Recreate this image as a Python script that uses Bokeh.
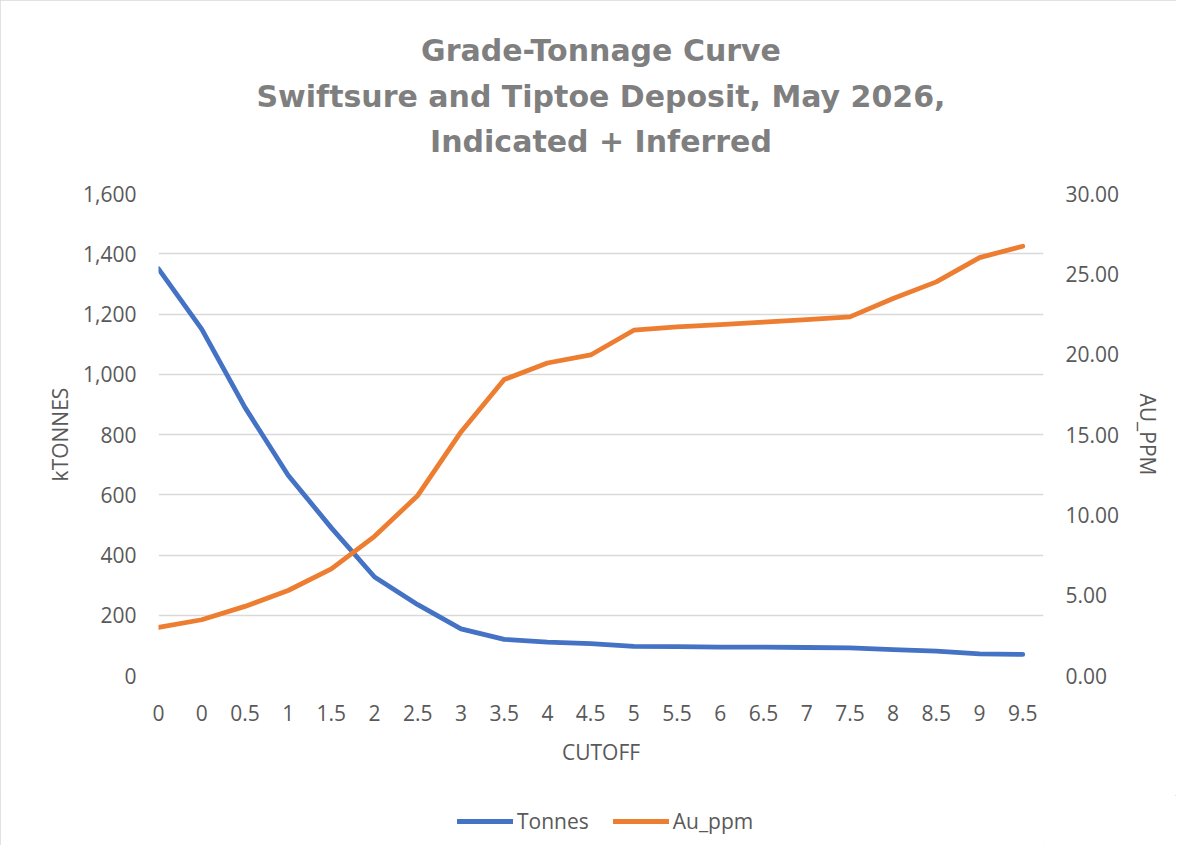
from bokeh.plotting import figure
from bokeh.layouts import column
from bokeh.models import (Range1d, LinearAxis, FixedTicker, NumeralTickFormatter,
                          Legend, LegendItem, Title)
from bokeh.embed import file_html
from bokeh.resources import INLINE

cutoffs = ["0", "0", "0.5", "1", "1.5", "2", "2.5", "3", "3.5", "4", "4.5",
           "5", "5.5", "6", "6.5", "7", "7.5", "8", "8.5", "9", "9.5"]
tonnes_k = [1350, 1150, 890, 665, 490, 327, 235, 155, 120, 111, 106,
            97, 96, 94, 94, 93, 92, 86, 81, 72, 70]
au_ppm = [3.00, 3.47, 4.30, 5.29, 6.64, 8.66, 11.21, 15.16, 18.42, 19.45, 19.95,
          21.49, 21.70, 21.84, 22.00, 22.15, 22.32, 23.46, 24.50, 26.01, 26.72]
left_ticks = [0, 200, 400, 600, 800, 1000, 1200, 1400, 1600]
right_ticks = [0, 5, 10, 15, 20, 25, 30]
title_lines = ["Grade-Tonnage Curve",
               "Swiftsure and Tiptoe Deposit, May 2026,",
               "Indicated + Inferred"]
series_names = ["Tonnes", "Au_ppm"]

xs = list(range(len(cutoffs)))

FONT = "Open Sans"
TFONT = "DejaVu Sans"
TXT = "#595959"
GRID = "#d9d9d9"
BLUE = "#4472C4"
ORANGE = "#ED7D31"

p = figure(frame_width=885, frame_height=482, output_backend="svg", toolbar_location=None,
           x_range=Range1d(0, 20.48), y_range=Range1d(0, 1600),
           min_border_left=158, min_border_right=133, min_border_top=193,
           min_border_bottom=120, title=None)
p.outline_line_color = None

# spacer next to the frame, then the three title lines stacked upwards
p.add_layout(Title(text=" ", align="center", text_font=TFONT, text_font_size="26px",
                   text_color="#ffffff", standoff=3), "above")
standoffs = [4, 15, 0]
for line, so in reversed(list(zip(title_lines, standoffs))):
    p.add_layout(Title(text=line, align="center", text_font=TFONT, text_font_size="30px",
                       text_font_style="bold", text_color="#7f7f7f", standoff=so), "above")

p.extra_y_ranges = {"au": Range1d(0, 30)}

xa = p.xaxis[0]
xa.ticker = FixedTicker(ticks=xs)
xa.major_label_overrides = {i: c for i, c in zip(xs, cutoffs)}
xa.axis_label = "CUTOFF"

ya = p.yaxis[0]
ya.ticker = FixedTicker(ticks=left_ticks)
ya.formatter = NumeralTickFormatter(format="0,0")
ya.axis_label = "kTONNES"

ra = LinearAxis(y_range_name="au", ticker=FixedTicker(ticks=right_ticks),
                formatter=NumeralTickFormatter(format="0.00"), axis_label="AU_PPM")
p.add_layout(ra, "right")

for ax in [xa, ya, ra]:
    ax.axis_line_color = None
    ax.major_tick_line_color = None
    ax.minor_tick_line_color = None
    ax.major_label_text_font = FONT
    ax.major_label_text_font_size = "21px"
    ax.major_label_text_color = TXT
    ax.axis_label_text_font = FONT
    ax.axis_label_text_font_size = "21px"
    ax.axis_label_text_color = TXT
    ax.axis_label_text_font_style = "normal"

xa.major_label_standoff = 23
xa.axis_label_standoff = 14
ya.major_label_standoff = 16
ya.axis_label_standoff = 6
ra.major_label_standoff = 16
ra.axis_label_standoff = 12

p.xgrid.grid_line_color = None
p.ygrid.grid_line_color = GRID
p.ygrid.grid_line_width = 1.3

p.line(xs, tonnes_k, line_color=BLUE, line_width=4.8, line_join="round", line_cap="round")
p.line(xs, au_ppm, y_range_name="au", line_color=ORANGE, line_width=4.8,
       line_join="round", line_cap="round")

# legend strip below the chart (its own series renderers sit outside its visible range)
p2 = figure(width=p.min_border_left + 885 + p.min_border_right, height=50,
            output_backend="svg", toolbar_location=None,
            x_range=Range1d(-100, -99), y_range=Range1d(-100, -99),
            x_axis_location=None, y_axis_location=None, min_border=0)
p2.outline_line_color = None
p2.xgrid.visible = False
p2.ygrid.visible = False
l1 = p2.line(xs, tonnes_k, line_color=BLUE, line_width=4.8, line_cap="round")
l2 = p2.line(xs, au_ppm, line_color=ORANGE, line_width=4.8, line_cap="round")

legend = Legend(items=[LegendItem(label=series_names[0], renderers=[l1]),
                       LegendItem(label=series_names[1], renderers=[l2])],
                orientation="horizontal", location=(299, 10),
                label_text_font=FONT, label_text_font_size="21px", label_text_color=TXT,
                glyph_width=56, glyph_height=20, label_standoff=4, spacing=24,
                border_line_color=None, background_fill_alpha=0, padding=0, margin=0)
p2.add_layout(legend, "center")

layout = column(p, p2, spacing=0)
layout.styles = {"outline": "1px solid #d9d9d9", "outline-offset": "-1px"}

open("out.html", "w").write(file_html(layout, INLINE))
